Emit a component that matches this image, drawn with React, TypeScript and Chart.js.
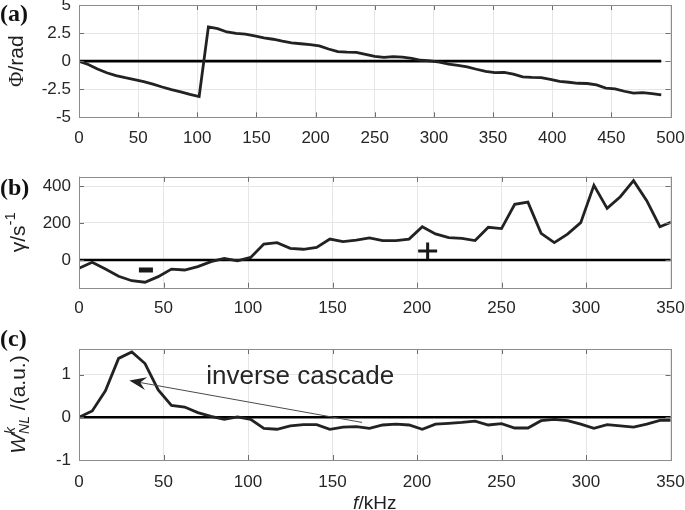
import React, { useEffect, useRef } from "react";
import { Chart, registerables } from "chart.js";
Chart.register(...registerables);

// ---------- data ----------
const freqA = [0, 7.81, 15.63, 23.44, 31.25, 39.06, 46.88, 54.69, 62.5, 70.31, 78.13, 85.94, 93.75, 101.56, 109.38, 117.19, 125, 132.81, 140.63, 148.44, 156.25, 164.06, 171.88, 179.69, 187.5, 195.31, 203.13, 210.94, 218.75, 226.56, 234.38, 242.19, 250, 257.81, 265.63, 273.44, 281.25, 289.06, 296.88, 304.69, 312.5, 320.31, 328.13, 335.94, 343.75, 351.56, 359.38, 367.19, 375, 382.81, 390.63, 398.44, 406.25, 414.06, 421.88, 429.69, 437.5, 445.31, 453.13, 460.94, 468.75, 476.56, 484.38, 492.19];
const phaseA = [0, -0.3, -0.7, -1.03, -1.28, -1.47, -1.64, -1.82, -2.05, -2.3, -2.53, -2.73, -2.95, -3.15, 3.05, 2.9, 2.6, 2.48, 2.4, 2.25, 2.08, 1.95, 1.78, 1.63, 1.55, 1.48, 1.35, 1.08, 0.85, 0.8, 0.78, 0.6, 0.42, 0.33, 0.4, 0.35, 0.25, 0.08, 0.02, -0.08, -0.27, -0.38, -0.52, -0.72, -0.92, -1.02, -1.0, -1.15, -1.4, -1.45, -1.47, -1.62, -1.8, -1.88, -1.97, -1.99, -2.12, -2.4, -2.47, -2.68, -2.85, -2.8, -2.9, -3.0];

const freqBC = freqA.slice(0, 46);
const gammaB = [-45, -12, -49, -88, -112, -120, -90, -49, -54, -36, -9, 9, -5, 14, 86, 94, 63, 58, 68, 113, 99, 108, 120, 105, 105, 113, 180, 141, 121, 117, 105, 177, 170, 301, 313, 144, 94, 140, 202, 404, 279, 342, 429, 321, 180, 208];
const wnlC = [0, 0.15, 0.62, 1.38, 1.53, 1.26, 0.64, 0.28, 0.24, 0.11, 0.02, -0.05, 0.01, -0.05, -0.26, -0.28, -0.2, -0.17, -0.17, -0.28, -0.23, -0.22, -0.26, -0.18, -0.16, -0.18, -0.28, -0.16, -0.14, -0.12, -0.09, -0.18, -0.15, -0.25, -0.25, -0.08, -0.05, -0.08, -0.16, -0.26, -0.17, -0.2, -0.23, -0.16, -0.07, -0.07];

const xTicksA = [0, 50, 100, 150, 200, 250, 300, 350, 400, 450, 500];
const xTicksBC = [0, 50, 100, 150, 200, 250, 300, 350];
const yTicksA = [-5, -2.5, 0, 2.5, 5];
const yTicksB = [0, 200, 400];
const yTicksC = [-1, 0, 1];

// ---------- helpers ----------
const SANS = "'Liberation Sans', Arial, sans-serif";
const SERIF = "'Liberation Serif', 'Times New Roman', serif";
const TXT = "#1f1f1f";

type Seg = { t: string; font: string; dy?: number; noAdv?: boolean };

function drawSegs(ctx: CanvasRenderingContext2D, cx: number, cy: number, segs: Seg[], rotate: boolean) {
  ctx.save();
  ctx.translate(cx, cy);
  if (rotate) ctx.rotate(-Math.PI / 2);
  ctx.textBaseline = "middle";
  ctx.textAlign = "left";
  ctx.fillStyle = TXT;
  let total = 0;
  let pend = 0;
  for (const s of segs) {
    ctx.font = s.font;
    const w = ctx.measureText(s.t).width;
    if (s.noAdv) pend = Math.max(pend, w);
    else { total += Math.max(w, pend); pend = 0; }
  }
  total += pend;
  let x = -total / 2;
  pend = 0;
  for (const s of segs) {
    ctx.font = s.font;
    const w = ctx.measureText(s.t).width;
    ctx.fillText(s.t, x, s.dy || 0);
    if (s.noAdv) pend = Math.max(pend, w);
    else { x += Math.max(w, pend); pend = 0; }
  }
  ctx.restore();
}

function panelLabel(ctx: CanvasRenderingContext2D, text: string, y: number) {
  ctx.save();
  ctx.font = `bold 24px ${SERIF}`;
  ctx.fillStyle = "#111";
  ctx.textBaseline = "middle";
  ctx.textAlign = "left";
  ctx.fillText(text, 0, y);
  ctx.restore();
}

const framePlugin = {
  id: "frame",
  afterDatasetsDraw(chart: any) {
    const ctx = chart.ctx as CanvasRenderingContext2D;
    const { left, right, top, bottom } = chart.chartArea;
    const xs = chart.scales.x;
    const ys = chart.scales.y;
    ctx.save();
    ctx.strokeStyle = "#6e6e6e";
    ctx.lineWidth = 1;
    ctx.beginPath();
    for (const t of xs.ticks) {
      const p = Math.round(xs.getPixelForValue(t.value)) + 0.5;
      ctx.moveTo(p, bottom); ctx.lineTo(p, bottom - 5);
      ctx.moveTo(p, top); ctx.lineTo(p, top + 5);
    }
    for (const t of ys.ticks) {
      const p = Math.round(ys.getPixelForValue(t.value)) + 0.5;
      ctx.moveTo(left, p); ctx.lineTo(left + 5, p);
      ctx.moveTo(right, p); ctx.lineTo(right - 5, p);
    }
    ctx.stroke();
    ctx.strokeStyle = "#8c8c8c";
    ctx.strokeRect(Math.round(left) + 0.5, Math.round(top) + 0.5, Math.round(right - left), Math.round(bottom - top));
    ctx.restore();
  },
};

type Spec = {
  freqs: number[];
  values: number[];
  xMax: number;
  yMin: number;
  yMax: number;
  xTicks: number[];
  yTicks: number[];
  padTop: number;
  xAxisHeight: number;
  xTickPad: number;
  annotate: (ctx: CanvasRenderingContext2D, chart: any) => void;
};

function buildChart(canvas: HTMLCanvasElement, spec: Spec) {
  const annot = {
    id: "annot",
    afterDraw(chart: any) {
      spec.annotate(chart.ctx, chart);
    },
  };
  const tickFont = { family: SANS, size: 17 };
  return new Chart(canvas, {
    type: "line",
    data: {
      datasets: [
        {
          data: spec.freqs.map((f, i) => ({ x: f, y: spec.values[i] })),
          borderColor: "#222222",
          borderWidth: 2.8,
          pointRadius: 0,
          tension: 0,
          fill: false,
        },
        {
          data: [
            { x: spec.freqs[0], y: 0 },
            { x: spec.freqs[spec.freqs.length - 1], y: 0 },
          ],
          borderColor: "#000000",
          borderWidth: 2.6,
          pointRadius: 0,
          fill: false,
        },
      ],
    },
    options: {
      animation: false,
      responsive: false,
      events: [],
      layout: { padding: { top: spec.padTop, right: 14.5, left: 0, bottom: 0 } },
      plugins: { legend: { display: false }, tooltip: { enabled: false }, title: { display: false } },
      scales: {
        x: {
          type: "linear",
          min: 0,
          max: spec.xMax,
          afterBuildTicks: (s: any) => { s.ticks = spec.xTicks.map((v) => ({ value: v })); },
          afterFit: (s: any) => { s.height = spec.xAxisHeight; s.paddingLeft = 0; s.paddingRight = 0; },
          grid: { color: "#e6e6e6", drawTicks: false, lineWidth: 1 },
          border: { display: false },
          ticks: { padding: spec.xTickPad, font: tickFont, color: "#262626", maxRotation: 0, autoSkip: false, callback: (v: any) => String(v) },
        },
        y: {
          type: "linear",
          min: spec.yMin,
          max: spec.yMax,
          afterBuildTicks: (s: any) => { s.ticks = spec.yTicks.map((v) => ({ value: v })); },
          afterFit: (s: any) => { s.width = 79; s.paddingTop = 0; s.paddingBottom = 0; },
          grid: { color: "#e6e6e6", drawTicks: false, lineWidth: 1 },
          border: { display: false },
          ticks: { padding: 8, font: tickFont, color: "#262626", autoSkip: false, callback: (v: any) => String(v) },
        },
      },
    } as any,
    plugins: [framePlugin, annot],
  });
}

const specA: Spec = {
  freqs: freqA,
  values: phaseA,
  xMax: 500,
  yMin: -5,
  yMax: 5,
  xTicks: xTicksA,
  yTicks: yTicksA,
  padTop: 5,
  xAxisHeight: 42.7,
  xTickPad: 10.5,
  annotate: (ctx, chart) => {
    panelLabel(ctx, "(a)", 15);
    const { top, bottom } = chart.chartArea;
    drawSegs(ctx, 17, (top + bottom) / 2, [
      { t: "Φ", font: `21px ${SERIF}` },
      { t: "/rad", font: `21px ${SANS}` },
    ], true);
  },
};

const specB: Spec = {
  freqs: freqBC,
  values: gammaB,
  xMax: 350,
  yMin: -150,
  yMax: 450,
  xTicks: xTicksBC,
  yTicks: yTicksB,
  padTop: 16.75,
  xAxisHeight: 32.25,
  xTickPad: 10,
  annotate: (ctx, chart) => {
    panelLabel(ctx, "(b)", 29);
    const { top, bottom } = chart.chartArea;
    drawSegs(ctx, 19, (top + bottom) / 2, [
      { t: "γ/s", font: `21px ${SANS}` },
      { t: "-1", font: `15px ${SANS}`, dy: -8 },
    ], true);
    const xs = chart.scales.x;
    const ys = chart.scales.y;
    ctx.save();
    ctx.fillStyle = "#1a1a1a";
    const mx = xs.getPixelForValue(39.6);
    const my = ys.getPixelForValue(-54);
    ctx.fillRect(mx - 7, my - 2.5, 14, 5);
    const px = xs.getPixelForValue(206.3);
    const py = ys.getPixelForValue(48.6);
    ctx.strokeStyle = "#1a1a1a";
    ctx.lineWidth = 3;
    ctx.beginPath();
    ctx.moveTo(px - 9.5, py); ctx.lineTo(px + 9.5, py);
    ctx.moveTo(px, py - 8.5); ctx.lineTo(px, py + 8.5);
    ctx.stroke();
    ctx.restore();
  },
};

const specC: Spec = {
  freqs: freqBC,
  values: wnlC,
  xMax: 350,
  yMin: -1,
  yMax: 1.6,
  xTicks: xTicksBC,
  yTicks: yTicksC,
  padTop: 19,
  xAxisHeight: 50,
  xTickPad: 12,
  annotate: (ctx, chart) => {
    panelLabel(ctx, "(c)", 10);
    const { top, bottom, left, right } = chart.chartArea;
    drawSegs(ctx, 19, (top + bottom) / 2, [
      { t: "W", font: `italic 21px ${SANS}` },
      { t: "k", font: `italic 14px ${SANS}`, dy: -8, noAdv: true },
      { t: "NL", font: `italic 14px ${SANS}`, dy: 6 },
      { t: " /(a.u.)", font: `21px ${SANS}` },
    ], true);
    drawSegs(ctx, (left + right) / 2, 173.5, [
      { t: "f", font: `italic 19px ${SANS}` },
      { t: "/kHz", font: `19px ${SANS}` },
    ], false);
    const xs = chart.scales.x;
    const ys = chart.scales.y;
    // text
    ctx.save();
    ctx.font = `26px ${SANS}`;
    ctx.fillStyle = "#262626";
    ctx.textBaseline = "middle";
    ctx.textAlign = "left";
    ctx.fillText("inverse cascade", xs.getPixelForValue(75.3), ys.getPixelForValue(0.95));
    // arrow
    const tx = xs.getPixelForValue(167.5), ty = ys.getPixelForValue(-0.12);
    const hx = xs.getPixelForValue(29.8), hy = ys.getPixelForValue(0.86);
    const dx = hx - tx, dy = hy - ty;
    const len = Math.hypot(dx, dy);
    const ux = dx / len, uy = dy / len;
    const nx = -uy, ny = ux;
    ctx.strokeStyle = "#4a4a4a";
    ctx.lineWidth = 1;
    ctx.beginPath();
    ctx.moveTo(tx, ty);
    ctx.lineTo(hx - ux * 10, hy - uy * 10);
    ctx.stroke();
    ctx.fillStyle = "#222";
    ctx.beginPath();
    ctx.moveTo(hx, hy);
    ctx.lineTo(hx - ux * 17 + nx * 6.5, hy - uy * 17 + ny * 6.5);
    ctx.lineTo(hx - ux * 11, hy - uy * 11);
    ctx.lineTo(hx - ux * 17 - nx * 6.5, hy - uy * 17 - ny * 6.5);
    ctx.closePath();
    ctx.fill();
    ctx.restore();
  },
};

function Panel({ spec, top, height }: { spec: Spec; top: number; height: number }) {
  const ref = useRef<HTMLCanvasElement | null>(null);
  useEffect(() => {
    if (!ref.current) return;
    const chart = buildChart(ref.current, spec);
    return () => chart.destroy();
  }, [spec]);
  return (
    <canvas
      ref={ref}
      width={685}
      height={height}
      style={{ position: "absolute", left: 0, top, width: 685, height }}
    />
  );
}

export default function App() {
  return (
    <div style={{ position: "absolute", left: 0, top: 0, width: 685, height: 510, background: "#ffffff", overflow: "hidden" }}>
      <Panel spec={specA} top={0} height={160} />
      <Panel spec={specB} top={160} height={160} />
      <Panel spec={specC} top={330} height={180} />
    </div>
  );
}
